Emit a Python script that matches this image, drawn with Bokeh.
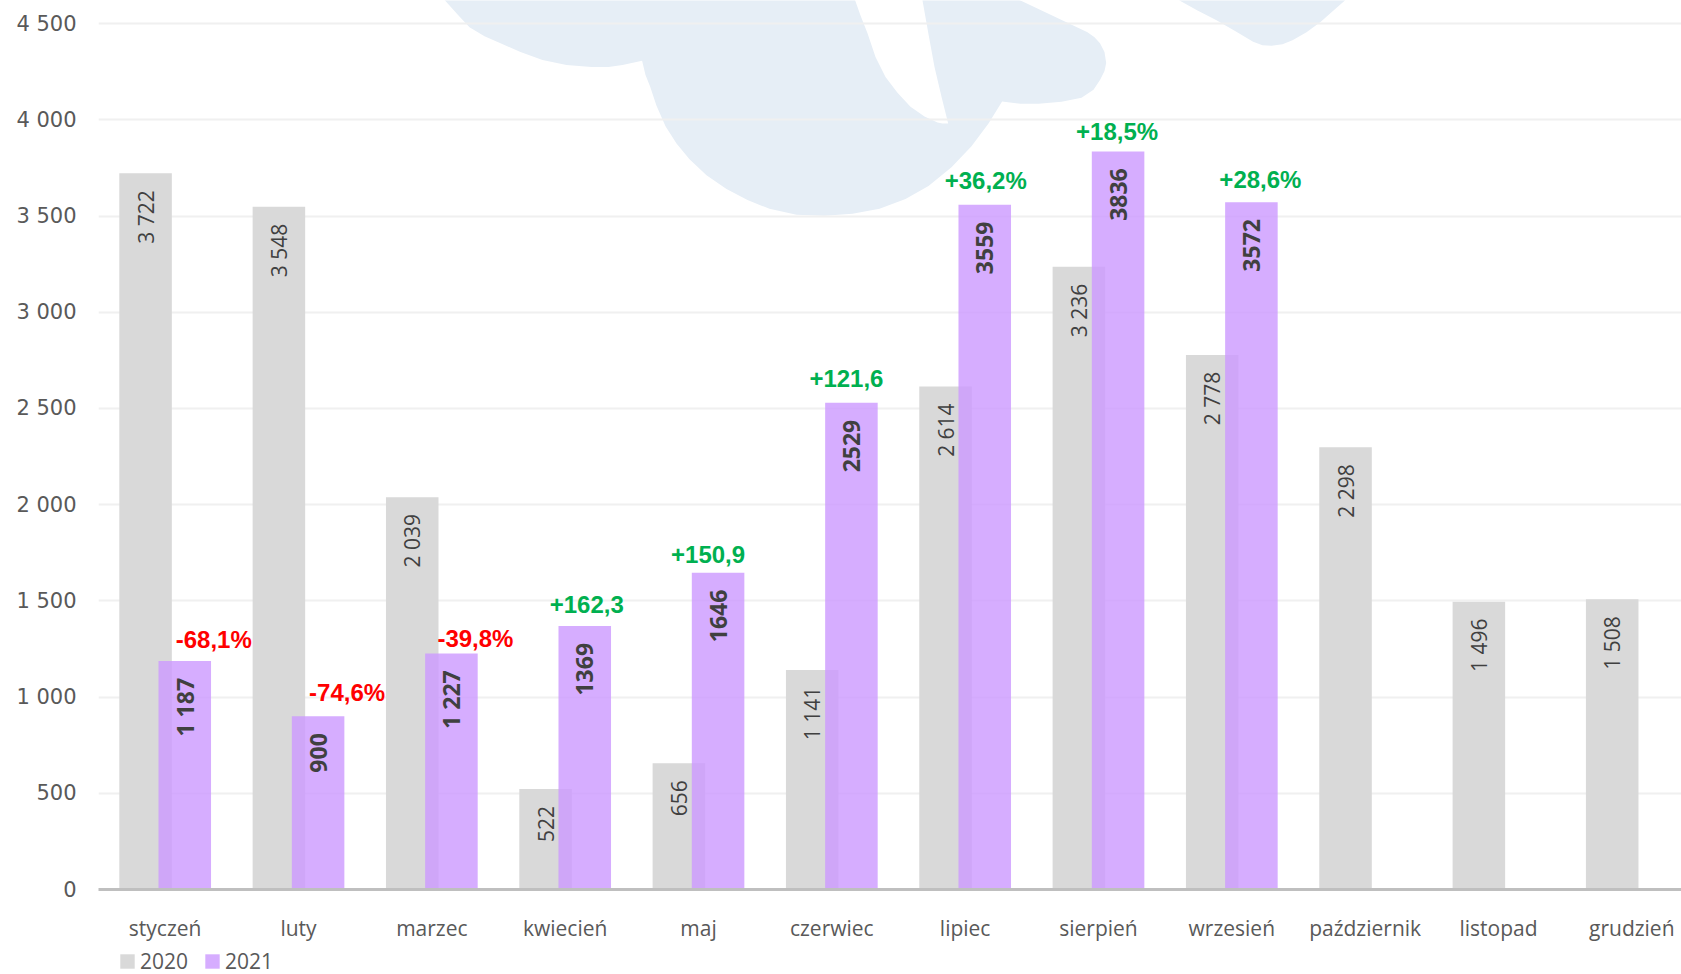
import math
from bokeh.plotting import figure
from bokeh.layouts import column
from bokeh.models import FixedTicker, Range1d, Legend, LegendItem
from bokeh.core.properties import value
from bokeh.embed import file_html
from bokeh.resources import INLINE

# ---------------- data ----------------
months = ["styczeń", "luty", "marzec", "kwiecień", "maj", "czerwiec", "lipiec",
          "sierpień", "wrzesień", "październik", "listopad", "grudzień"]
v2020 = [3722, 3548, 2039, 522, 656, 1141, 2614, 3236, 2778, 2298, 1496, 1508]
v2021 = [1187, 900, 1227, 1369, 1646, 2529, 3559, 3836, 3572]
lab2020 = ["3 722", "3 548", "2 039", "522", "656", "1 141", "2 614", "3 236",
           "2 778", "2 298", "1 496", "1 508"]
lab2021 = ["1 187", "900", "1 227", "1369", "1646", "2529", "3559", "3836", "3572"]
pct = ["-68,1%", "-74,6%", "-39,8%", "+162,3", "+150,9", "+121,6", "+36,2%",
       "+18,5%", "+28,6%"]
y_ticks = [0, 500, 1000, 1500, 2000, 2500, 3000, 3500, 4000, 4500]
series = ["2020", "2021"]

# ---------------- layout / style ----------------
W, H1, H2 = 1681, 944, 30
BL, BB = 98, 48                  # left / bottom borders (px)
FW, FH = W - BL, H1 - BB         # frame size
PX_CAT = 133.33                  # px per category
PX_Y = (FH - 23.3) / 4500.0      # px per unit
X_END = FW / PX_CAT
Y_END = FH / PX_Y
OFF, BW = 0.147, 0.394
GREY, PURPLE = "#d9d9d9", "#cc99ff"
TXT = "#595959"
# nudges for the percentage labels (px)
pct_dx = [29, 29, 24, 2, -10, -5, 1, -1, 9]
pct_dy = [22, 24, 15, 22, 18, 25, 24, 20, 23]

p = figure(width=W, height=H1, output_backend="svg", toolbar_location=None,
           x_range=Range1d(0, X_END), y_range=Range1d(0, Y_END),
           min_border_left=BL, min_border_right=0, min_border_top=0,
           min_border_bottom=BB)
p.outline_line_color = None
p.background_fill_color = "white"
p.border_fill_color = "white"

# background watermark (decoration): outline in canvas pixels -> data coords
LOGO_A = [(435.5, -10), (444.5, 0), (458, 15), (469, 27), (484, 36), (500, 43),
          (520, 52), (542, 60), (566, 65), (591, 67), (608, 67), (622, 65),
          (641.6, 60.7), (645, 75), (649.6, 86.7), (656, 106), (665, 126.7),
          (676, 144), (689, 160), (706, 176), (726, 190), (747, 201), (769, 210),
          (796, 216), (824, 217), (852, 215), (879, 210), (905, 200), (928, 187),
          (951, 168), (971, 147), (988, 124), (1001.6, 101.7), (1020, 104),
          (1038, 104), (1061, 102), (1081, 98), (1093, 90), (1099.5, 80),
          (1104, 71), (1105.7, 63), (1104, 52), (1099.5, 43), (1094, 37),
          (1087, 32), (1020, 0), (999, -10), (920, -10), (922, 0), (928, 34),
          (934, 67), (941, 97), (947.7, 124), (942, 124), (937, 123), (924, 117),
          (910, 107), (897, 93), (885, 77), (875, 57), (867, 33), (860, 15),
          (854.7, 0), (853, -10)]
LOGO_B = [(1175, -10), (1179, 0), (1197, 10), (1216, 20), (1235, 31),
          (1252.6, 41.7), (1262, 45), (1271, 45.7), (1282, 44), (1292, 40),
          (1306, 32), (1320, 21.7), (1333, 10), (1344.4, 0), (1350, -10)]
for poly in (LOGO_A, LOGO_B):
    xs = [(px - BL) / PX_CAT for px, _ in poly]
    ys = [(FH - py) / PX_Y for _, py in poly]
    p.patch(xs, ys, fill_color="#e6eef6", line_color=None, level="image")

cats = [i + 0.5 for i in range(len(months))]
x20 = [c - OFF for c in cats]
x21 = [cats[i] + OFF for i in range(len(v2021))]

p.vbar(x=x20, top=v2020, width=BW, fill_color=GREY, line_color=None)
p.vbar(x=x21, top=v2021, width=BW, fill_color=PURPLE, fill_alpha=0.8,
       line_color=None)

# value labels
d17 = 17 / PX_Y
p.text(x=x20, y=[v - d17 for v in v2020], text=lab2020, angle=math.pi / 2,
       text_align="right", text_baseline="middle",
       text_font=value("Open Sans"), text_font_size="21px", text_color="#404040")
p.text(x=x21, y=[v - d17 for v in v2021], text=lab2021, angle=math.pi / 2,
       text_align="right", text_baseline="middle",
       text_font=value("Open Sans"), text_font_style="bold",
       text_font_size="23px", text_color="#404040")
pct_col = ["#ff0000" if s.startswith("-") else "#00b050" for s in pct]
p.text(x=[x21[i] + pct_dx[i] / PX_CAT for i in range(len(pct))],
       y=[v2021[i] + pct_dy[i] / PX_Y for i in range(len(pct))],
       text=pct, text_color=pct_col, text_align="center", text_baseline="middle",
       text_font=value("Liberation Sans"), text_font_style="bold",
       text_font_size="24px")

# axes
p.yaxis.ticker = FixedTicker(ticks=y_ticks)
p.yaxis.major_label_overrides = {t: f"{t:,}".replace(",", " ") for t in y_ticks}
p.yaxis.axis_line_color = None
p.yaxis.major_tick_line_color = None
p.yaxis.minor_tick_line_color = None
p.yaxis.major_label_standoff = 16
p.yaxis.major_label_text_font = "DejaVu Sans"
p.yaxis.major_label_text_font_size = "21px"
p.yaxis.major_label_text_color = TXT

p.xaxis.ticker = FixedTicker(ticks=cats)
p.xaxis.major_label_overrides = {c: m for c, m in zip(cats, months)}
p.xaxis.axis_line_color = "#bfbfbf"
p.xaxis.axis_line_width = 3
p.xaxis.major_tick_line_color = None
p.xaxis.minor_tick_line_color = None
p.xaxis.major_label_standoff = 18
p.xaxis.major_label_text_font = "Open Sans"
p.xaxis.major_label_text_font_size = "21px"
p.xaxis.major_label_text_color = TXT

p.xgrid.grid_line_color = None
p.ygrid.ticker = FixedTicker(ticks=y_ticks)
p.ygrid.grid_line_color = "#f0f0f0"
p.ygrid.grid_line_width = 2

# legend strip under the chart (swatch renderers hold one point outside view)
pl = figure(width=W, height=H2, output_backend="svg", toolbar_location=None,
            x_axis_location=None, y_axis_location=None,
            x_range=Range1d(0, 1), y_range=Range1d(0, 1),
            min_border_left=0, min_border_right=0, min_border_top=0,
            min_border_bottom=0)
pl.outline_line_color = None
pl.grid.grid_line_color = None
pl.border_fill_color = "white"
l20 = pl.vbar(x=[-10], top=[0], width=1, fill_color=GREY, line_color=None)
l21 = pl.vbar(x=[-10], top=[0], width=1, fill_color=PURPLE, fill_alpha=0.8,
              line_color=None)
legend = Legend(items=[LegendItem(label=series[0], renderers=[l20]),
                       LegendItem(label=series[1], renderers=[l21])],
                location=(20, -1), orientation="horizontal",
                glyph_width=18, glyph_height=18, label_standoff=4, spacing=15,
                padding=0, margin=0, border_line_color=None,
                background_fill_alpha=0,
                label_text_font="Open Sans", label_text_font_size="21px",
                label_text_color=TXT)
pl.add_layout(legend)

layout = column(p, pl, spacing=0)
open("out.html", "w").write(file_html(layout, INLINE))
